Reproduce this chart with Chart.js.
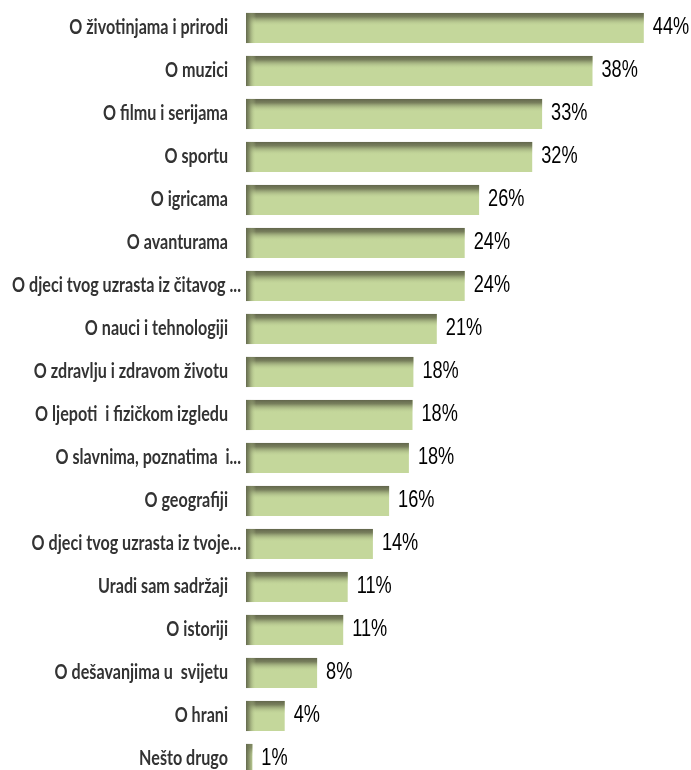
<!DOCTYPE html>
<html>
<head>
<meta charset="utf-8">
<script src="https://cdn.jsdelivr.net/npm/chart.js@4.4.1/dist/chart.umd.min.js"></script>
<style>
  html, body { margin: 0; padding: 0; background: #fff; overflow: hidden; }
  #wrap { position: relative; width: 691px; height: 790px; }
</style>
</head>
<body>
<div id="wrap"><canvas id="chart"></canvas></div>
<script>
const categories = [
  "O životinjama i prirodi",
  "O muzici",
  "O filmu i serijama",
  "O sportu",
  "O igricama",
  "O avanturama",
  "O djeci tvog uzrasta iz čitavog ...",
  "O nauci i tehnologiji",
  "O zdravlju i zdravom životu",
  "O ljepoti  i fizičkom izgledu",
  "O slavnima, poznatima  i...",
  "O geografiji",
  "O djeci tvog uzrasta iz tvoje...",
  "Uradi sam sadržaji",
  "O istoriji",
  "O dešavanjima u  svijetu",
  "O hrani",
  "Nešto drugo",
];

// bar lengths (percent)
const shares = [44.2, 38.5, 32.9, 31.8, 25.9, 24.3, 24.3, 21.2, 18.6, 18.5, 18.1, 15.9, 14.1, 11.3, 10.8, 7.9, 4.3, 0.7];

// the rounded labels printed next to the bars
const shareLabels = ["44%", "38%", "33%", "32%", "26%", "24%", "24%", "21%", "18%", "18%", "18%", "16%", "14%", "11%", "11%", "8%", "4%", "1%"];

const xMax = 49;

function drawSqueezed(ctx, text, x, y, font, color, sx, align) {
  ctx.save();
  ctx.font = font;
  ctx.fillStyle = color;
  ctx.textAlign = align;
  ctx.textBaseline = "middle";
  ctx.translate(x, y);
  ctx.scale(sx, 1);
  ctx.fillText(text, 0, 0);
  ctx.restore();
}

// dark bevel on the top and left edges of every bar
const bevelPlugin = {
  id: "bevel",
  afterDatasetsDraw(chart) {
    const ctx = chart.ctx;
    const bars = chart.getDatasetMeta(0).data;
    bars.forEach((bar) => {
      const { x, y, base, height } = bar.getProps(["x", "y", "base", "height"], true);
      const top = y - height / 2;
      const left = base;
      const w = x - base;

      ctx.save();
      let g = ctx.createLinearGradient(0, top, 0, top + 13);
      g.addColorStop(0, "rgba(98,102,76,1)");
      g.addColorStop(0.3, "rgba(112,118,86,0.9)");
      g.addColorStop(1, "rgba(196,215,155,0)");
      ctx.fillStyle = g;
      ctx.fillRect(left, top, w, Math.min(13, height));

      g = ctx.createLinearGradient(left, 0, left + 10, 0);
      g.addColorStop(0, "rgba(100,106,78,1)");
      g.addColorStop(0.3, "rgba(120,128,92,0.8)");
      g.addColorStop(1, "rgba(196,215,155,0)");
      ctx.fillStyle = g;
      ctx.fillRect(left, top, Math.min(10, w), height);
      ctx.restore();
    });
  },
};

const labelPlugin = {
  id: "labels",
  afterDatasetsDraw(chart) {
    const ctx = chart.ctx;
    const yScale = chart.scales.y;
    const bars = chart.getDatasetMeta(0).data;
    const left = chart.chartArea.left;

    categories.forEach((name, i) => {
      const y = yScale.getPixelForValue(i);
      // truncated labels run closer to the bars
      const right = name.endsWith("...") ? left - 5 : left - 18;
      drawSqueezed(ctx, name, right, y - 1, "bold 21.5px Lato", "#333", 0.75, "right");
    });

    bars.forEach((bar, i) => {
      drawSqueezed(ctx, shareLabels[i], bar.x + 9, bar.y, "23px 'Liberation Sans'", "#000", 0.79, "left");
    });
  },
};

new Chart(document.getElementById("chart"), {
  type: "bar",
  data: {
    labels: categories,
    datasets: [
      {
        data: shares,
        backgroundColor: "#c4d79b",
        borderWidth: 0,
        barPercentage: 0.7,
        categoryPercentage: 1,
      },
    ],
  },
  options: {
    indexAxis: "y",
    responsive: true,
    maintainAspectRatio: false,
    animation: false,
    layout: {
      padding: { left: 246, right: 691 - 246 - xMax * 9, top: 6.5, bottom: 9.5 },
    },
    plugins: {
      legend: { display: false },
      tooltip: { enabled: false },
    },
    scales: {
      x: { display: false, min: 0, max: xMax },
      y: { display: false },
    },
  },
  plugins: [bevelPlugin, labelPlugin],
});
</script>
</body>
</html>
